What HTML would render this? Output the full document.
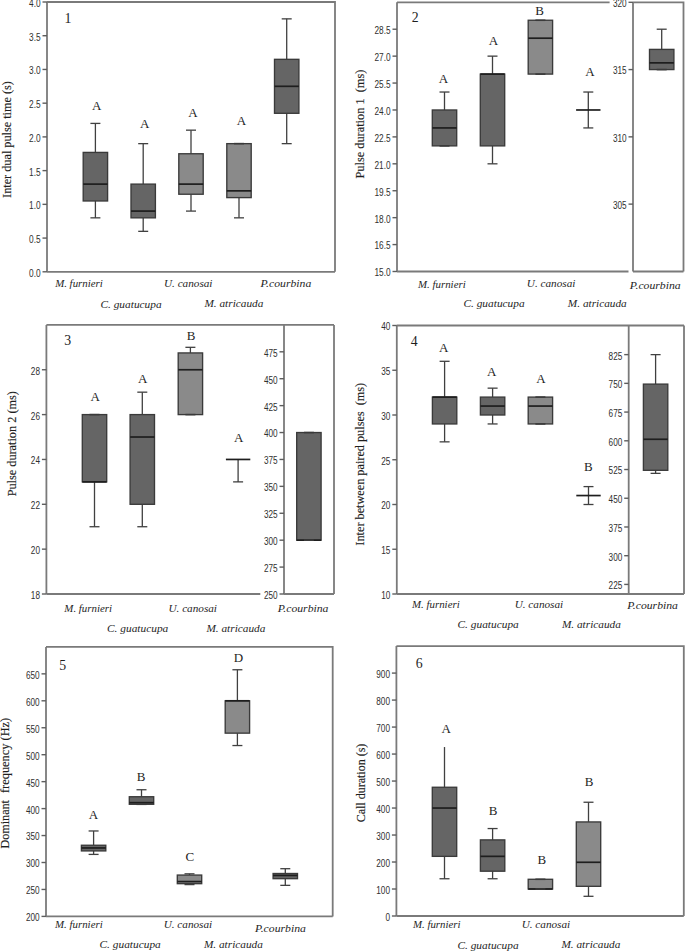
<!DOCTYPE html>
<html><head><meta charset="utf-8"><title>Boxplots</title>
<style>
html,body{margin:0;padding:0;background:#fff;}
svg{display:block;}
.tk{font-family:"Liberation Sans",sans-serif;font-size:10px;fill:#303030;}
.lt{font-family:"Liberation Serif",serif;font-size:13px;fill:#1e1e1e;}
.pn{font-family:"Liberation Serif",serif;font-size:13.8px;fill:#1e1e1e;}
.sp{font-family:"Liberation Serif",serif;font-style:italic;font-size:11px;fill:#1e1e1e;}
.yl{font-family:"Liberation Serif",serif;font-size:12.8px;fill:#1e1e1e;stroke:#1e1e1e;stroke-width:0.15px;}
</style></head>
<body>
<svg width="685" height="951" viewBox="0 0 685 951">
<rect x="0" y="0" width="685" height="951" fill="#fff"/>
<polyline points="47.0,2.0 335.0,2.0 335.0,271.8" fill="none" stroke="#7a7a7a" stroke-width="1.8"/>
<line x1="47.00" y1="2.00" x2="47.00" y2="271.80" stroke="#7a7a7a" stroke-width="1.8"/>
<line x1="47.00" y1="271.80" x2="335.00" y2="271.80" stroke="#7a7a7a" stroke-width="1.8"/>
<line x1="42.50" y1="271.80" x2="47.00" y2="271.80" stroke="#5e5e5e" stroke-width="1.4"/>
<text x="40.60" y="276.70" class="tk" text-anchor="end" textLength="11.54" lengthAdjust="spacingAndGlyphs">0.0</text>
<line x1="42.50" y1="238.08" x2="47.00" y2="238.08" stroke="#5e5e5e" stroke-width="1.4"/>
<text x="40.60" y="242.98" class="tk" text-anchor="end" textLength="11.54" lengthAdjust="spacingAndGlyphs">0.5</text>
<line x1="42.50" y1="204.35" x2="47.00" y2="204.35" stroke="#5e5e5e" stroke-width="1.4"/>
<text x="40.60" y="209.25" class="tk" text-anchor="end" textLength="11.54" lengthAdjust="spacingAndGlyphs">1.0</text>
<line x1="42.50" y1="170.62" x2="47.00" y2="170.62" stroke="#5e5e5e" stroke-width="1.4"/>
<text x="40.60" y="175.53" class="tk" text-anchor="end" textLength="11.54" lengthAdjust="spacingAndGlyphs">1.5</text>
<line x1="42.50" y1="136.90" x2="47.00" y2="136.90" stroke="#5e5e5e" stroke-width="1.4"/>
<text x="40.60" y="141.80" class="tk" text-anchor="end" textLength="11.54" lengthAdjust="spacingAndGlyphs">2.0</text>
<line x1="42.50" y1="103.18" x2="47.00" y2="103.18" stroke="#5e5e5e" stroke-width="1.4"/>
<text x="40.60" y="108.08" class="tk" text-anchor="end" textLength="11.54" lengthAdjust="spacingAndGlyphs">2.5</text>
<line x1="42.50" y1="69.45" x2="47.00" y2="69.45" stroke="#5e5e5e" stroke-width="1.4"/>
<text x="40.60" y="74.35" class="tk" text-anchor="end" textLength="11.54" lengthAdjust="spacingAndGlyphs">3.0</text>
<line x1="42.50" y1="35.72" x2="47.00" y2="35.72" stroke="#5e5e5e" stroke-width="1.4"/>
<text x="40.60" y="40.62" class="tk" text-anchor="end" textLength="11.54" lengthAdjust="spacingAndGlyphs">3.5</text>
<line x1="42.50" y1="2.00" x2="47.00" y2="2.00" stroke="#5e5e5e" stroke-width="1.4"/>
<text x="40.60" y="6.90" class="tk" text-anchor="end" textLength="11.54" lengthAdjust="spacingAndGlyphs">4.0</text>
<line x1="95.40" y1="123.41" x2="95.40" y2="152.41" stroke="#404040" stroke-width="1.3"/>
<line x1="90.40" y1="123.41" x2="100.40" y2="123.41" stroke="#404040" stroke-width="1.3"/>
<line x1="95.40" y1="200.98" x2="95.40" y2="217.84" stroke="#404040" stroke-width="1.3"/>
<line x1="90.40" y1="217.84" x2="100.40" y2="217.84" stroke="#404040" stroke-width="1.3"/>
<rect x="83.20" y="152.41" width="24.40" height="48.56" fill="#656565" stroke="#3a3a3a" stroke-width="1.35"/>
<line x1="83.20" y1="184.12" x2="107.60" y2="184.12" stroke="#1e1e1e" stroke-width="1.7"/>
<line x1="143.20" y1="143.65" x2="143.20" y2="184.12" stroke="#404040" stroke-width="1.3"/>
<line x1="138.20" y1="143.65" x2="148.20" y2="143.65" stroke="#404040" stroke-width="1.3"/>
<line x1="143.20" y1="217.84" x2="143.20" y2="231.33" stroke="#404040" stroke-width="1.3"/>
<line x1="138.20" y1="231.33" x2="148.20" y2="231.33" stroke="#404040" stroke-width="1.3"/>
<rect x="131.00" y="184.12" width="24.40" height="33.72" fill="#656565" stroke="#3a3a3a" stroke-width="1.35"/>
<line x1="131.00" y1="211.09" x2="155.40" y2="211.09" stroke="#1e1e1e" stroke-width="1.7"/>
<line x1="191.00" y1="130.16" x2="191.00" y2="153.76" stroke="#404040" stroke-width="1.3"/>
<line x1="186.00" y1="130.16" x2="196.00" y2="130.16" stroke="#404040" stroke-width="1.3"/>
<line x1="191.00" y1="194.23" x2="191.00" y2="211.09" stroke="#404040" stroke-width="1.3"/>
<line x1="186.00" y1="211.09" x2="196.00" y2="211.09" stroke="#404040" stroke-width="1.3"/>
<rect x="178.80" y="153.76" width="24.40" height="40.47" fill="#8a8a8a" stroke="#3a3a3a" stroke-width="1.35"/>
<line x1="178.80" y1="184.12" x2="203.20" y2="184.12" stroke="#1e1e1e" stroke-width="1.7"/>
<line x1="239.00" y1="197.61" x2="239.00" y2="217.84" stroke="#404040" stroke-width="1.3"/>
<line x1="234.00" y1="217.84" x2="244.00" y2="217.84" stroke="#404040" stroke-width="1.3"/>
<rect x="226.80" y="143.65" width="24.40" height="53.96" fill="#8a8a8a" stroke="#3a3a3a" stroke-width="1.35"/>
<line x1="226.80" y1="190.86" x2="251.20" y2="190.86" stroke="#1e1e1e" stroke-width="1.7"/>
<line x1="234.00" y1="143.65" x2="244.00" y2="143.65" stroke="#3a3a3a" stroke-width="1.6"/>
<line x1="286.70" y1="18.86" x2="286.70" y2="59.33" stroke="#404040" stroke-width="1.3"/>
<line x1="281.70" y1="18.86" x2="291.70" y2="18.86" stroke="#404040" stroke-width="1.3"/>
<line x1="286.70" y1="113.29" x2="286.70" y2="143.65" stroke="#404040" stroke-width="1.3"/>
<line x1="281.70" y1="143.65" x2="291.70" y2="143.65" stroke="#404040" stroke-width="1.3"/>
<rect x="274.50" y="59.33" width="24.40" height="53.96" fill="#656565" stroke="#3a3a3a" stroke-width="1.35"/>
<line x1="274.50" y1="86.31" x2="298.90" y2="86.31" stroke="#1e1e1e" stroke-width="1.7"/>
<text x="96.60" y="110.00" class="lt" text-anchor="middle">A</text>
<text x="144.80" y="127.70" class="lt" text-anchor="middle">A</text>
<text x="193.00" y="116.80" class="lt" text-anchor="middle">A</text>
<text x="241.40" y="124.80" class="lt" text-anchor="middle">A</text>
<text x="64.40" y="22.50" class="pn" text-anchor="start">1</text>
<text x="55.15" y="287.20" class="sp" text-anchor="start" textLength="47.65" lengthAdjust="spacingAndGlyphs">M. furnieri</text>
<text x="100.45" y="307.50" class="sp" text-anchor="start" textLength="61.2" lengthAdjust="spacingAndGlyphs">C. guatucupa</text>
<text x="163.95" y="286.70" class="sp" text-anchor="start" textLength="48.55" lengthAdjust="spacingAndGlyphs">U. canosai</text>
<text x="204.45" y="307.20" class="sp" text-anchor="start" textLength="58.9" lengthAdjust="spacingAndGlyphs">M. atricauda</text>
<text x="260.45" y="286.70" class="sp" text-anchor="start" textLength="50.8" lengthAdjust="spacingAndGlyphs">P.courbina</text>
<text x="0" y="0" class="yl" text-anchor="middle" transform="translate(10.90,139.50) rotate(-90)" textLength="116.8" lengthAdjust="spacingAndGlyphs" xml:space="preserve">Inter dual pulse time (s)</text>
<line x1="397.00" y1="2.30" x2="609.60" y2="2.30" stroke="#7a7a7a" stroke-width="1.8"/>
<line x1="397.00" y1="2.30" x2="397.00" y2="271.50" stroke="#7a7a7a" stroke-width="1.8"/>
<line x1="397.00" y1="271.50" x2="628.50" y2="271.50" stroke="#7a7a7a" stroke-width="1.8"/>
<line x1="392.50" y1="271.50" x2="397.00" y2="271.50" stroke="#5e5e5e" stroke-width="1.4"/>
<text x="390.60" y="276.40" class="tk" text-anchor="end" textLength="16.11" lengthAdjust="spacingAndGlyphs">15.0</text>
<line x1="392.50" y1="244.58" x2="397.00" y2="244.58" stroke="#5e5e5e" stroke-width="1.4"/>
<text x="390.60" y="249.48" class="tk" text-anchor="end" textLength="16.11" lengthAdjust="spacingAndGlyphs">16.5</text>
<line x1="392.50" y1="217.66" x2="397.00" y2="217.66" stroke="#5e5e5e" stroke-width="1.4"/>
<text x="390.60" y="222.56" class="tk" text-anchor="end" textLength="16.11" lengthAdjust="spacingAndGlyphs">18.0</text>
<line x1="392.50" y1="190.74" x2="397.00" y2="190.74" stroke="#5e5e5e" stroke-width="1.4"/>
<text x="390.60" y="195.64" class="tk" text-anchor="end" textLength="16.11" lengthAdjust="spacingAndGlyphs">19.5</text>
<line x1="392.50" y1="163.82" x2="397.00" y2="163.82" stroke="#5e5e5e" stroke-width="1.4"/>
<text x="390.60" y="168.72" class="tk" text-anchor="end" textLength="16.11" lengthAdjust="spacingAndGlyphs">21.0</text>
<line x1="392.50" y1="136.90" x2="397.00" y2="136.90" stroke="#5e5e5e" stroke-width="1.4"/>
<text x="390.60" y="141.80" class="tk" text-anchor="end" textLength="16.11" lengthAdjust="spacingAndGlyphs">22.5</text>
<line x1="392.50" y1="109.98" x2="397.00" y2="109.98" stroke="#5e5e5e" stroke-width="1.4"/>
<text x="390.60" y="114.88" class="tk" text-anchor="end" textLength="16.11" lengthAdjust="spacingAndGlyphs">24.0</text>
<line x1="392.50" y1="83.06" x2="397.00" y2="83.06" stroke="#5e5e5e" stroke-width="1.4"/>
<text x="390.60" y="87.96" class="tk" text-anchor="end" textLength="16.11" lengthAdjust="spacingAndGlyphs">25.5</text>
<line x1="392.50" y1="56.14" x2="397.00" y2="56.14" stroke="#5e5e5e" stroke-width="1.4"/>
<text x="390.60" y="61.04" class="tk" text-anchor="end" textLength="16.11" lengthAdjust="spacingAndGlyphs">27.0</text>
<line x1="392.50" y1="29.22" x2="397.00" y2="29.22" stroke="#5e5e5e" stroke-width="1.4"/>
<text x="390.60" y="34.12" class="tk" text-anchor="end" textLength="16.11" lengthAdjust="spacingAndGlyphs">28.5</text>
<line x1="444.50" y1="92.03" x2="444.50" y2="109.98" stroke="#404040" stroke-width="1.3"/>
<line x1="439.50" y1="92.03" x2="449.50" y2="92.03" stroke="#404040" stroke-width="1.3"/>
<rect x="432.30" y="109.98" width="24.40" height="35.89" fill="#656565" stroke="#3a3a3a" stroke-width="1.35"/>
<line x1="432.30" y1="127.93" x2="456.70" y2="127.93" stroke="#1e1e1e" stroke-width="1.7"/>
<line x1="439.50" y1="145.87" x2="449.50" y2="145.87" stroke="#3a3a3a" stroke-width="1.6"/>
<line x1="492.50" y1="56.14" x2="492.50" y2="74.09" stroke="#404040" stroke-width="1.3"/>
<line x1="487.50" y1="56.14" x2="497.50" y2="56.14" stroke="#404040" stroke-width="1.3"/>
<line x1="492.50" y1="145.87" x2="492.50" y2="163.82" stroke="#404040" stroke-width="1.3"/>
<line x1="487.50" y1="163.82" x2="497.50" y2="163.82" stroke="#404040" stroke-width="1.3"/>
<rect x="480.30" y="74.09" width="24.40" height="71.79" fill="#656565" stroke="#3a3a3a" stroke-width="1.35"/>
<line x1="480.30" y1="74.09" x2="504.70" y2="74.09" stroke="#1e1e1e" stroke-width="1.7"/>
<rect x="528.20" y="20.25" width="24.40" height="53.84" fill="#8a8a8a" stroke="#3a3a3a" stroke-width="1.35"/>
<line x1="528.20" y1="38.19" x2="552.60" y2="38.19" stroke="#1e1e1e" stroke-width="1.7"/>
<line x1="535.40" y1="20.25" x2="545.40" y2="20.25" stroke="#3a3a3a" stroke-width="1.6"/>
<line x1="535.40" y1="74.09" x2="545.40" y2="74.09" stroke="#3a3a3a" stroke-width="1.6"/>
<line x1="588.30" y1="92.03" x2="588.30" y2="109.98" stroke="#404040" stroke-width="1.3"/>
<line x1="583.30" y1="92.03" x2="593.30" y2="92.03" stroke="#404040" stroke-width="1.3"/>
<line x1="588.30" y1="109.98" x2="588.30" y2="127.93" stroke="#404040" stroke-width="1.3"/>
<line x1="583.30" y1="127.93" x2="593.30" y2="127.93" stroke="#404040" stroke-width="1.3"/>
<line x1="576.10" y1="109.98" x2="600.50" y2="109.98" stroke="#1e1e1e" stroke-width="1.7"/>
<text x="443.50" y="82.80" class="lt" text-anchor="middle">A</text>
<text x="493.50" y="44.60" class="lt" text-anchor="middle">A</text>
<text x="539.70" y="14.60" class="lt" text-anchor="middle">B</text>
<text x="589.90" y="75.70" class="lt" text-anchor="middle">A</text>
<polyline points="633.0,2.3 683.5,2.3 683.5,271.5" fill="none" stroke="#7a7a7a" stroke-width="1.8"/>
<line x1="633.00" y1="2.30" x2="633.00" y2="271.50" stroke="#7a7a7a" stroke-width="1.8"/>
<line x1="633.00" y1="271.50" x2="683.50" y2="271.50" stroke="#7a7a7a" stroke-width="1.8"/>
<line x1="628.50" y1="204.12" x2="633.00" y2="204.12" stroke="#5e5e5e" stroke-width="1.4"/>
<text x="626.60" y="209.03" class="tk" text-anchor="end" textLength="13.71" lengthAdjust="spacingAndGlyphs">305</text>
<line x1="628.50" y1="136.85" x2="633.00" y2="136.85" stroke="#5e5e5e" stroke-width="1.4"/>
<text x="626.60" y="141.75" class="tk" text-anchor="end" textLength="13.71" lengthAdjust="spacingAndGlyphs">310</text>
<line x1="628.50" y1="69.57" x2="633.00" y2="69.57" stroke="#5e5e5e" stroke-width="1.4"/>
<text x="626.60" y="74.47" class="tk" text-anchor="end" textLength="13.71" lengthAdjust="spacingAndGlyphs">315</text>
<line x1="628.50" y1="2.30" x2="633.00" y2="2.30" stroke="#5e5e5e" stroke-width="1.4"/>
<text x="626.60" y="7.20" class="tk" text-anchor="end" textLength="13.71" lengthAdjust="spacingAndGlyphs">320</text>
<line x1="661.70" y1="29.21" x2="661.70" y2="49.39" stroke="#404040" stroke-width="1.3"/>
<line x1="656.70" y1="29.21" x2="666.70" y2="29.21" stroke="#404040" stroke-width="1.3"/>
<rect x="649.50" y="49.39" width="24.40" height="20.18" fill="#656565" stroke="#3a3a3a" stroke-width="1.35"/>
<line x1="649.50" y1="62.85" x2="673.90" y2="62.85" stroke="#1e1e1e" stroke-width="1.7"/>
<line x1="656.70" y1="69.57" x2="666.70" y2="69.57" stroke="#3a3a3a" stroke-width="1.6"/>
<text x="411.80" y="21.60" class="pn" text-anchor="start">2</text>
<text x="418.05" y="287.50" class="sp" text-anchor="start" textLength="47.65" lengthAdjust="spacingAndGlyphs">M. furnieri</text>
<text x="463.45" y="307.20" class="sp" text-anchor="start" textLength="61.2" lengthAdjust="spacingAndGlyphs">C. guatucupa</text>
<text x="526.85" y="287.20" class="sp" text-anchor="start" textLength="48.55" lengthAdjust="spacingAndGlyphs">U. canosai</text>
<text x="567.85" y="306.90" class="sp" text-anchor="start" textLength="58.9" lengthAdjust="spacingAndGlyphs">M. atricauda</text>
<text x="629.85" y="288.90" class="sp" text-anchor="start" textLength="50.8" lengthAdjust="spacingAndGlyphs">P.courbina</text>
<text x="0" y="0" class="yl" text-anchor="middle" transform="translate(363.80,124.10) rotate(-90)" textLength="108.8" lengthAdjust="spacingAndGlyphs" xml:space="preserve">Pulse duration 1  (ms)</text>
<line x1="46.40" y1="324.90" x2="334.00" y2="324.90" stroke="#7a7a7a" stroke-width="1.8"/>
<line x1="46.40" y1="324.90" x2="46.40" y2="594.00" stroke="#7a7a7a" stroke-width="1.8"/>
<line x1="46.40" y1="594.00" x2="260.30" y2="594.00" stroke="#7a7a7a" stroke-width="1.8"/>
<line x1="41.90" y1="594.00" x2="46.40" y2="594.00" stroke="#5e5e5e" stroke-width="1.4"/>
<text x="40.00" y="598.90" class="tk" text-anchor="end" textLength="9.14" lengthAdjust="spacingAndGlyphs">18</text>
<line x1="41.90" y1="549.15" x2="46.40" y2="549.15" stroke="#5e5e5e" stroke-width="1.4"/>
<text x="40.00" y="554.05" class="tk" text-anchor="end" textLength="9.14" lengthAdjust="spacingAndGlyphs">20</text>
<line x1="41.90" y1="504.30" x2="46.40" y2="504.30" stroke="#5e5e5e" stroke-width="1.4"/>
<text x="40.00" y="509.20" class="tk" text-anchor="end" textLength="9.14" lengthAdjust="spacingAndGlyphs">22</text>
<line x1="41.90" y1="459.45" x2="46.40" y2="459.45" stroke="#5e5e5e" stroke-width="1.4"/>
<text x="40.00" y="464.35" class="tk" text-anchor="end" textLength="9.14" lengthAdjust="spacingAndGlyphs">24</text>
<line x1="41.90" y1="414.60" x2="46.40" y2="414.60" stroke="#5e5e5e" stroke-width="1.4"/>
<text x="40.00" y="419.50" class="tk" text-anchor="end" textLength="9.14" lengthAdjust="spacingAndGlyphs">26</text>
<line x1="41.90" y1="369.75" x2="46.40" y2="369.75" stroke="#5e5e5e" stroke-width="1.4"/>
<text x="40.00" y="374.65" class="tk" text-anchor="end" textLength="9.14" lengthAdjust="spacingAndGlyphs">28</text>
<line x1="94.50" y1="481.88" x2="94.50" y2="526.73" stroke="#404040" stroke-width="1.3"/>
<line x1="89.50" y1="526.73" x2="99.50" y2="526.73" stroke="#404040" stroke-width="1.3"/>
<rect x="82.30" y="414.60" width="24.40" height="67.27" fill="#656565" stroke="#3a3a3a" stroke-width="1.35"/>
<line x1="82.30" y1="481.88" x2="106.70" y2="481.88" stroke="#1e1e1e" stroke-width="1.7"/>
<line x1="89.50" y1="414.60" x2="99.50" y2="414.60" stroke="#3a3a3a" stroke-width="1.6"/>
<line x1="142.30" y1="392.17" x2="142.30" y2="414.60" stroke="#404040" stroke-width="1.3"/>
<line x1="137.30" y1="392.17" x2="147.30" y2="392.17" stroke="#404040" stroke-width="1.3"/>
<line x1="142.30" y1="504.30" x2="142.30" y2="526.73" stroke="#404040" stroke-width="1.3"/>
<line x1="137.30" y1="526.73" x2="147.30" y2="526.73" stroke="#404040" stroke-width="1.3"/>
<rect x="130.10" y="414.60" width="24.40" height="89.70" fill="#656565" stroke="#3a3a3a" stroke-width="1.35"/>
<line x1="130.10" y1="437.02" x2="154.50" y2="437.02" stroke="#1e1e1e" stroke-width="1.7"/>
<line x1="190.40" y1="347.32" x2="190.40" y2="352.93" stroke="#404040" stroke-width="1.3"/>
<line x1="185.40" y1="347.32" x2="195.40" y2="347.32" stroke="#404040" stroke-width="1.3"/>
<rect x="178.20" y="352.93" width="24.40" height="61.67" fill="#8a8a8a" stroke="#3a3a3a" stroke-width="1.35"/>
<line x1="178.20" y1="369.75" x2="202.60" y2="369.75" stroke="#1e1e1e" stroke-width="1.7"/>
<line x1="185.40" y1="414.60" x2="195.40" y2="414.60" stroke="#3a3a3a" stroke-width="1.6"/>
<line x1="238.10" y1="459.45" x2="238.10" y2="481.88" stroke="#404040" stroke-width="1.3"/>
<line x1="233.10" y1="481.88" x2="243.10" y2="481.88" stroke="#404040" stroke-width="1.3"/>
<line x1="225.90" y1="459.45" x2="250.30" y2="459.45" stroke="#1e1e1e" stroke-width="1.7"/>
<text x="95.20" y="401.40" class="lt" text-anchor="middle">A</text>
<text x="142.60" y="382.80" class="lt" text-anchor="middle">A</text>
<text x="191.10" y="339.60" class="lt" text-anchor="middle">B</text>
<text x="238.60" y="442.20" class="lt" text-anchor="middle">A</text>
<line x1="284.00" y1="324.90" x2="284.00" y2="594.00" stroke="#7a7a7a" stroke-width="1.8"/>
<line x1="334.00" y1="324.90" x2="334.00" y2="594.00" stroke="#7a7a7a" stroke-width="1.8"/>
<line x1="284.00" y1="594.00" x2="334.00" y2="594.00" stroke="#7a7a7a" stroke-width="1.8"/>
<line x1="279.50" y1="594.00" x2="284.00" y2="594.00" stroke="#5e5e5e" stroke-width="1.4"/>
<text x="277.60" y="598.90" class="tk" text-anchor="end" textLength="13.71" lengthAdjust="spacingAndGlyphs">250</text>
<line x1="279.50" y1="567.09" x2="284.00" y2="567.09" stroke="#5e5e5e" stroke-width="1.4"/>
<text x="277.60" y="571.99" class="tk" text-anchor="end" textLength="13.71" lengthAdjust="spacingAndGlyphs">275</text>
<line x1="279.50" y1="540.18" x2="284.00" y2="540.18" stroke="#5e5e5e" stroke-width="1.4"/>
<text x="277.60" y="545.08" class="tk" text-anchor="end" textLength="13.71" lengthAdjust="spacingAndGlyphs">300</text>
<line x1="279.50" y1="513.27" x2="284.00" y2="513.27" stroke="#5e5e5e" stroke-width="1.4"/>
<text x="277.60" y="518.17" class="tk" text-anchor="end" textLength="13.71" lengthAdjust="spacingAndGlyphs">325</text>
<line x1="279.50" y1="486.36" x2="284.00" y2="486.36" stroke="#5e5e5e" stroke-width="1.4"/>
<text x="277.60" y="491.26" class="tk" text-anchor="end" textLength="13.71" lengthAdjust="spacingAndGlyphs">350</text>
<line x1="279.50" y1="459.45" x2="284.00" y2="459.45" stroke="#5e5e5e" stroke-width="1.4"/>
<text x="277.60" y="464.35" class="tk" text-anchor="end" textLength="13.71" lengthAdjust="spacingAndGlyphs">375</text>
<line x1="279.50" y1="432.54" x2="284.00" y2="432.54" stroke="#5e5e5e" stroke-width="1.4"/>
<text x="277.60" y="437.44" class="tk" text-anchor="end" textLength="13.71" lengthAdjust="spacingAndGlyphs">400</text>
<line x1="279.50" y1="405.63" x2="284.00" y2="405.63" stroke="#5e5e5e" stroke-width="1.4"/>
<text x="277.60" y="410.53" class="tk" text-anchor="end" textLength="13.71" lengthAdjust="spacingAndGlyphs">425</text>
<line x1="279.50" y1="378.72" x2="284.00" y2="378.72" stroke="#5e5e5e" stroke-width="1.4"/>
<text x="277.60" y="383.62" class="tk" text-anchor="end" textLength="13.71" lengthAdjust="spacingAndGlyphs">450</text>
<line x1="279.50" y1="351.81" x2="284.00" y2="351.81" stroke="#5e5e5e" stroke-width="1.4"/>
<text x="277.60" y="356.71" class="tk" text-anchor="end" textLength="13.71" lengthAdjust="spacingAndGlyphs">475</text>
<rect x="296.70" y="432.54" width="24.40" height="107.64" fill="#656565" stroke="#3a3a3a" stroke-width="1.35"/>
<line x1="296.70" y1="540.18" x2="321.10" y2="540.18" stroke="#1e1e1e" stroke-width="1.7"/>
<line x1="303.90" y1="432.54" x2="313.90" y2="432.54" stroke="#3a3a3a" stroke-width="1.6"/>
<line x1="303.90" y1="540.18" x2="313.90" y2="540.18" stroke="#3a3a3a" stroke-width="1.6"/>
<text x="64.30" y="344.90" class="pn" text-anchor="start">3</text>
<text x="64.35" y="611.80" class="sp" text-anchor="start" textLength="47.65" lengthAdjust="spacingAndGlyphs">M. furnieri</text>
<text x="107.05" y="632.00" class="sp" text-anchor="start" textLength="61.2" lengthAdjust="spacingAndGlyphs">C. guatucupa</text>
<text x="168.45" y="611.80" class="sp" text-anchor="start" textLength="48.55" lengthAdjust="spacingAndGlyphs">U. canosai</text>
<text x="206.45" y="632.00" class="sp" text-anchor="start" textLength="58.9" lengthAdjust="spacingAndGlyphs">M. atricauda</text>
<text x="277.65" y="612.40" class="sp" text-anchor="start" textLength="50.8" lengthAdjust="spacingAndGlyphs">P.courbina</text>
<text x="0" y="0" class="yl" text-anchor="middle" transform="translate(16.00,443.75) rotate(-90)" textLength="105.2" lengthAdjust="spacingAndGlyphs" xml:space="preserve">Pulse duration 2 (ms)</text>
<line x1="396.80" y1="325.50" x2="684.00" y2="325.50" stroke="#7a7a7a" stroke-width="1.8"/>
<line x1="396.80" y1="325.50" x2="396.80" y2="594.00" stroke="#7a7a7a" stroke-width="1.8"/>
<line x1="396.80" y1="594.00" x2="684.00" y2="594.00" stroke="#7a7a7a" stroke-width="1.8"/>
<line x1="392.30" y1="594.00" x2="396.80" y2="594.00" stroke="#5e5e5e" stroke-width="1.4"/>
<text x="390.40" y="598.90" class="tk" text-anchor="end" textLength="9.14" lengthAdjust="spacingAndGlyphs">10</text>
<line x1="392.30" y1="549.25" x2="396.80" y2="549.25" stroke="#5e5e5e" stroke-width="1.4"/>
<text x="390.40" y="554.15" class="tk" text-anchor="end" textLength="9.14" lengthAdjust="spacingAndGlyphs">15</text>
<line x1="392.30" y1="504.50" x2="396.80" y2="504.50" stroke="#5e5e5e" stroke-width="1.4"/>
<text x="390.40" y="509.40" class="tk" text-anchor="end" textLength="9.14" lengthAdjust="spacingAndGlyphs">20</text>
<line x1="392.30" y1="459.75" x2="396.80" y2="459.75" stroke="#5e5e5e" stroke-width="1.4"/>
<text x="390.40" y="464.65" class="tk" text-anchor="end" textLength="9.14" lengthAdjust="spacingAndGlyphs">25</text>
<line x1="392.30" y1="415.00" x2="396.80" y2="415.00" stroke="#5e5e5e" stroke-width="1.4"/>
<text x="390.40" y="419.90" class="tk" text-anchor="end" textLength="9.14" lengthAdjust="spacingAndGlyphs">30</text>
<line x1="392.30" y1="370.25" x2="396.80" y2="370.25" stroke="#5e5e5e" stroke-width="1.4"/>
<text x="390.40" y="375.15" class="tk" text-anchor="end" textLength="9.14" lengthAdjust="spacingAndGlyphs">35</text>
<line x1="392.30" y1="325.50" x2="396.80" y2="325.50" stroke="#5e5e5e" stroke-width="1.4"/>
<text x="390.40" y="330.40" class="tk" text-anchor="end" textLength="9.14" lengthAdjust="spacingAndGlyphs">40</text>
<line x1="444.60" y1="361.30" x2="444.60" y2="397.10" stroke="#404040" stroke-width="1.3"/>
<line x1="439.60" y1="361.30" x2="449.60" y2="361.30" stroke="#404040" stroke-width="1.3"/>
<line x1="444.60" y1="423.95" x2="444.60" y2="441.85" stroke="#404040" stroke-width="1.3"/>
<line x1="439.60" y1="441.85" x2="449.60" y2="441.85" stroke="#404040" stroke-width="1.3"/>
<rect x="432.40" y="397.10" width="24.40" height="26.85" fill="#656565" stroke="#3a3a3a" stroke-width="1.35"/>
<line x1="432.40" y1="397.10" x2="456.80" y2="397.10" stroke="#1e1e1e" stroke-width="1.7"/>
<line x1="492.60" y1="388.15" x2="492.60" y2="397.10" stroke="#404040" stroke-width="1.3"/>
<line x1="487.60" y1="388.15" x2="497.60" y2="388.15" stroke="#404040" stroke-width="1.3"/>
<line x1="492.60" y1="415.00" x2="492.60" y2="423.95" stroke="#404040" stroke-width="1.3"/>
<line x1="487.60" y1="423.95" x2="497.60" y2="423.95" stroke="#404040" stroke-width="1.3"/>
<rect x="480.40" y="397.10" width="24.40" height="17.90" fill="#656565" stroke="#3a3a3a" stroke-width="1.35"/>
<line x1="480.40" y1="406.05" x2="504.80" y2="406.05" stroke="#1e1e1e" stroke-width="1.7"/>
<rect x="528.20" y="397.10" width="24.40" height="26.85" fill="#8a8a8a" stroke="#3a3a3a" stroke-width="1.35"/>
<line x1="528.20" y1="406.05" x2="552.60" y2="406.05" stroke="#1e1e1e" stroke-width="1.7"/>
<line x1="535.40" y1="397.10" x2="545.40" y2="397.10" stroke="#3a3a3a" stroke-width="1.6"/>
<line x1="535.40" y1="423.95" x2="545.40" y2="423.95" stroke="#3a3a3a" stroke-width="1.6"/>
<line x1="588.50" y1="486.60" x2="588.50" y2="495.55" stroke="#404040" stroke-width="1.3"/>
<line x1="583.50" y1="486.60" x2="593.50" y2="486.60" stroke="#404040" stroke-width="1.3"/>
<line x1="588.50" y1="495.55" x2="588.50" y2="504.50" stroke="#404040" stroke-width="1.3"/>
<line x1="583.50" y1="504.50" x2="593.50" y2="504.50" stroke="#404040" stroke-width="1.3"/>
<line x1="576.30" y1="495.55" x2="600.70" y2="495.55" stroke="#1e1e1e" stroke-width="1.7"/>
<text x="443.70" y="351.90" class="lt" text-anchor="middle">A</text>
<text x="491.80" y="375.50" class="lt" text-anchor="middle">A</text>
<text x="540.90" y="382.80" class="lt" text-anchor="middle">A</text>
<text x="588.30" y="471.00" class="lt" text-anchor="middle">B</text>
<line x1="628.70" y1="325.50" x2="628.70" y2="594.00" stroke="#7a7a7a" stroke-width="1.8"/>
<line x1="684.00" y1="325.50" x2="684.00" y2="594.00" stroke="#7a7a7a" stroke-width="1.8"/>
<line x1="624.20" y1="584.42" x2="628.70" y2="584.42" stroke="#5e5e5e" stroke-width="1.4"/>
<text x="622.30" y="589.32" class="tk" text-anchor="end" textLength="13.71" lengthAdjust="spacingAndGlyphs">225</text>
<line x1="624.20" y1="555.70" x2="628.70" y2="555.70" stroke="#5e5e5e" stroke-width="1.4"/>
<text x="622.30" y="560.60" class="tk" text-anchor="end" textLength="13.71" lengthAdjust="spacingAndGlyphs">300</text>
<line x1="624.20" y1="526.98" x2="628.70" y2="526.98" stroke="#5e5e5e" stroke-width="1.4"/>
<text x="622.30" y="531.88" class="tk" text-anchor="end" textLength="13.71" lengthAdjust="spacingAndGlyphs">375</text>
<line x1="624.20" y1="498.25" x2="628.70" y2="498.25" stroke="#5e5e5e" stroke-width="1.4"/>
<text x="622.30" y="503.15" class="tk" text-anchor="end" textLength="13.71" lengthAdjust="spacingAndGlyphs">450</text>
<line x1="624.20" y1="469.52" x2="628.70" y2="469.52" stroke="#5e5e5e" stroke-width="1.4"/>
<text x="622.30" y="474.42" class="tk" text-anchor="end" textLength="13.71" lengthAdjust="spacingAndGlyphs">525</text>
<line x1="624.20" y1="440.80" x2="628.70" y2="440.80" stroke="#5e5e5e" stroke-width="1.4"/>
<text x="622.30" y="445.70" class="tk" text-anchor="end" textLength="13.71" lengthAdjust="spacingAndGlyphs">600</text>
<line x1="624.20" y1="412.07" x2="628.70" y2="412.07" stroke="#5e5e5e" stroke-width="1.4"/>
<text x="622.30" y="416.97" class="tk" text-anchor="end" textLength="13.71" lengthAdjust="spacingAndGlyphs">675</text>
<line x1="624.20" y1="383.35" x2="628.70" y2="383.35" stroke="#5e5e5e" stroke-width="1.4"/>
<text x="622.30" y="388.25" class="tk" text-anchor="end" textLength="13.71" lengthAdjust="spacingAndGlyphs">750</text>
<line x1="624.20" y1="354.62" x2="628.70" y2="354.62" stroke="#5e5e5e" stroke-width="1.4"/>
<text x="622.30" y="359.52" class="tk" text-anchor="end" textLength="13.71" lengthAdjust="spacingAndGlyphs">825</text>
<line x1="655.60" y1="354.62" x2="655.60" y2="384.12" stroke="#404040" stroke-width="1.3"/>
<line x1="650.60" y1="354.62" x2="660.60" y2="354.62" stroke="#404040" stroke-width="1.3"/>
<line x1="655.60" y1="470.29" x2="655.60" y2="473.36" stroke="#404040" stroke-width="1.3"/>
<line x1="650.60" y1="473.36" x2="660.60" y2="473.36" stroke="#404040" stroke-width="1.3"/>
<rect x="643.40" y="384.12" width="24.40" height="86.18" fill="#656565" stroke="#3a3a3a" stroke-width="1.35"/>
<line x1="643.40" y1="439.27" x2="667.80" y2="439.27" stroke="#1e1e1e" stroke-width="1.7"/>
<text x="410.70" y="346.00" class="pn" text-anchor="start">4</text>
<text x="412.05" y="607.80" class="sp" text-anchor="start" textLength="47.65" lengthAdjust="spacingAndGlyphs">M. furnieri</text>
<text x="457.55" y="627.70" class="sp" text-anchor="start" textLength="61.2" lengthAdjust="spacingAndGlyphs">C. guatucupa</text>
<text x="514.65" y="607.80" class="sp" text-anchor="start" textLength="48.55" lengthAdjust="spacingAndGlyphs">U. canosai</text>
<text x="561.95" y="627.70" class="sp" text-anchor="start" textLength="58.9" lengthAdjust="spacingAndGlyphs">M. atricauda</text>
<text x="627.15" y="608.60" class="sp" text-anchor="start" textLength="50.8" lengthAdjust="spacingAndGlyphs">P.courbina</text>
<text x="0" y="0" class="yl" text-anchor="middle" transform="translate(363.50,464.25) rotate(-90)" textLength="162.8" lengthAdjust="spacingAndGlyphs" xml:space="preserve">Inter between paired pulses  (ms)</text>
<polyline points="46.0,646.9 332.7,646.9 332.7,916.4" fill="none" stroke="#7a7a7a" stroke-width="1.8"/>
<line x1="46.00" y1="646.90" x2="46.00" y2="916.40" stroke="#7a7a7a" stroke-width="1.8"/>
<line x1="46.00" y1="916.40" x2="332.70" y2="916.40" stroke="#7a7a7a" stroke-width="1.8"/>
<line x1="41.50" y1="916.40" x2="46.00" y2="916.40" stroke="#5e5e5e" stroke-width="1.4"/>
<text x="39.60" y="921.30" class="tk" text-anchor="end" textLength="13.71" lengthAdjust="spacingAndGlyphs">200</text>
<line x1="41.50" y1="889.45" x2="46.00" y2="889.45" stroke="#5e5e5e" stroke-width="1.4"/>
<text x="39.60" y="894.35" class="tk" text-anchor="end" textLength="13.71" lengthAdjust="spacingAndGlyphs">250</text>
<line x1="41.50" y1="862.50" x2="46.00" y2="862.50" stroke="#5e5e5e" stroke-width="1.4"/>
<text x="39.60" y="867.40" class="tk" text-anchor="end" textLength="13.71" lengthAdjust="spacingAndGlyphs">300</text>
<line x1="41.50" y1="835.55" x2="46.00" y2="835.55" stroke="#5e5e5e" stroke-width="1.4"/>
<text x="39.60" y="840.45" class="tk" text-anchor="end" textLength="13.71" lengthAdjust="spacingAndGlyphs">350</text>
<line x1="41.50" y1="808.60" x2="46.00" y2="808.60" stroke="#5e5e5e" stroke-width="1.4"/>
<text x="39.60" y="813.50" class="tk" text-anchor="end" textLength="13.71" lengthAdjust="spacingAndGlyphs">400</text>
<line x1="41.50" y1="781.65" x2="46.00" y2="781.65" stroke="#5e5e5e" stroke-width="1.4"/>
<text x="39.60" y="786.55" class="tk" text-anchor="end" textLength="13.71" lengthAdjust="spacingAndGlyphs">450</text>
<line x1="41.50" y1="754.70" x2="46.00" y2="754.70" stroke="#5e5e5e" stroke-width="1.4"/>
<text x="39.60" y="759.60" class="tk" text-anchor="end" textLength="13.71" lengthAdjust="spacingAndGlyphs">500</text>
<line x1="41.50" y1="727.75" x2="46.00" y2="727.75" stroke="#5e5e5e" stroke-width="1.4"/>
<text x="39.60" y="732.65" class="tk" text-anchor="end" textLength="13.71" lengthAdjust="spacingAndGlyphs">550</text>
<line x1="41.50" y1="700.80" x2="46.00" y2="700.80" stroke="#5e5e5e" stroke-width="1.4"/>
<text x="39.60" y="705.70" class="tk" text-anchor="end" textLength="13.71" lengthAdjust="spacingAndGlyphs">600</text>
<line x1="41.50" y1="673.85" x2="46.00" y2="673.85" stroke="#5e5e5e" stroke-width="1.4"/>
<text x="39.60" y="678.75" class="tk" text-anchor="end" textLength="13.71" lengthAdjust="spacingAndGlyphs">650</text>
<line x1="93.60" y1="830.97" x2="93.60" y2="845.25" stroke="#404040" stroke-width="1.3"/>
<line x1="88.60" y1="830.97" x2="98.60" y2="830.97" stroke="#404040" stroke-width="1.3"/>
<line x1="93.60" y1="850.91" x2="93.60" y2="854.41" stroke="#404040" stroke-width="1.3"/>
<line x1="88.60" y1="854.41" x2="98.60" y2="854.41" stroke="#404040" stroke-width="1.3"/>
<rect x="81.40" y="845.25" width="24.40" height="5.66" fill="#656565" stroke="#3a3a3a" stroke-width="1.35"/>
<line x1="81.40" y1="847.95" x2="105.80" y2="847.95" stroke="#1e1e1e" stroke-width="1.7"/>
<line x1="141.50" y1="789.74" x2="141.50" y2="796.74" stroke="#404040" stroke-width="1.3"/>
<line x1="136.50" y1="789.74" x2="146.50" y2="789.74" stroke="#404040" stroke-width="1.3"/>
<rect x="129.30" y="796.74" width="24.40" height="7.55" fill="#656565" stroke="#3a3a3a" stroke-width="1.35"/>
<line x1="129.30" y1="802.67" x2="153.70" y2="802.67" stroke="#1e1e1e" stroke-width="1.7"/>
<line x1="136.50" y1="804.29" x2="146.50" y2="804.29" stroke="#3a3a3a" stroke-width="1.6"/>
<line x1="189.50" y1="873.82" x2="189.50" y2="875.06" stroke="#404040" stroke-width="1.3"/>
<line x1="184.50" y1="873.82" x2="194.50" y2="873.82" stroke="#404040" stroke-width="1.3"/>
<line x1="189.50" y1="883.68" x2="189.50" y2="884.60" stroke="#404040" stroke-width="1.3"/>
<line x1="184.50" y1="884.60" x2="194.50" y2="884.60" stroke="#404040" stroke-width="1.3"/>
<rect x="177.30" y="875.06" width="24.40" height="8.62" fill="#8a8a8a" stroke="#3a3a3a" stroke-width="1.35"/>
<line x1="177.30" y1="881.58" x2="201.70" y2="881.58" stroke="#1e1e1e" stroke-width="1.7"/>
<line x1="237.40" y1="669.75" x2="237.40" y2="700.80" stroke="#404040" stroke-width="1.3"/>
<line x1="232.40" y1="669.75" x2="242.40" y2="669.75" stroke="#404040" stroke-width="1.3"/>
<line x1="237.40" y1="733.14" x2="237.40" y2="745.54" stroke="#404040" stroke-width="1.3"/>
<line x1="232.40" y1="745.54" x2="242.40" y2="745.54" stroke="#404040" stroke-width="1.3"/>
<rect x="225.20" y="700.80" width="24.40" height="32.34" fill="#8a8a8a" stroke="#3a3a3a" stroke-width="1.35"/>
<line x1="225.20" y1="700.80" x2="249.60" y2="700.80" stroke="#1e1e1e" stroke-width="1.7"/>
<line x1="285.30" y1="868.70" x2="285.30" y2="873.50" stroke="#404040" stroke-width="1.3"/>
<line x1="280.30" y1="868.70" x2="290.30" y2="868.70" stroke="#404040" stroke-width="1.3"/>
<line x1="285.30" y1="878.67" x2="285.30" y2="885.35" stroke="#404040" stroke-width="1.3"/>
<line x1="280.30" y1="885.35" x2="290.30" y2="885.35" stroke="#404040" stroke-width="1.3"/>
<rect x="273.10" y="873.50" width="24.40" height="5.17" fill="#656565" stroke="#3a3a3a" stroke-width="1.35"/>
<line x1="273.10" y1="875.44" x2="297.50" y2="875.44" stroke="#1e1e1e" stroke-width="1.7"/>
<text x="93.40" y="819.40" class="lt" text-anchor="middle">A</text>
<text x="141.20" y="781.00" class="lt" text-anchor="middle">B</text>
<text x="189.90" y="860.80" class="lt" text-anchor="middle">C</text>
<text x="238.50" y="661.90" class="lt" text-anchor="middle">D</text>
<text x="59.20" y="669.90" class="pn" text-anchor="start">5</text>
<text x="55.05" y="928.20" class="sp" text-anchor="start" textLength="47.65" lengthAdjust="spacingAndGlyphs">M. furnieri</text>
<text x="99.55" y="947.80" class="sp" text-anchor="start" textLength="61.2" lengthAdjust="spacingAndGlyphs">C. guatucupa</text>
<text x="163.65" y="928.20" class="sp" text-anchor="start" textLength="48.55" lengthAdjust="spacingAndGlyphs">U. canosai</text>
<text x="203.95" y="947.80" class="sp" text-anchor="start" textLength="58.9" lengthAdjust="spacingAndGlyphs">M. atricauda</text>
<text x="255.05" y="932.00" class="sp" text-anchor="start" textLength="50.8" lengthAdjust="spacingAndGlyphs">P.courbina</text>
<text x="0" y="0" class="yl" text-anchor="middle" transform="translate(8.80,824.30) rotate(-90)" textLength="48.6" lengthAdjust="spacingAndGlyphs" xml:space="preserve">Dominant</text>
<text x="0" y="0" class="yl" text-anchor="middle" transform="translate(8.80,755.40) rotate(-90)" textLength="75.2" lengthAdjust="spacingAndGlyphs" xml:space="preserve">frequency (Hz)</text>
<polyline points="396.4,646.1 683.8,646.1 683.8,916.0" fill="none" stroke="#7a7a7a" stroke-width="1.8"/>
<line x1="396.40" y1="646.10" x2="396.40" y2="916.00" stroke="#7a7a7a" stroke-width="1.8"/>
<line x1="396.40" y1="916.00" x2="683.80" y2="916.00" stroke="#7a7a7a" stroke-width="1.8"/>
<line x1="391.90" y1="916.00" x2="396.40" y2="916.00" stroke="#5e5e5e" stroke-width="1.4"/>
<text x="390.00" y="920.90" class="tk" text-anchor="end" textLength="4.57" lengthAdjust="spacingAndGlyphs">0</text>
<line x1="391.90" y1="889.01" x2="396.40" y2="889.01" stroke="#5e5e5e" stroke-width="1.4"/>
<text x="390.00" y="893.91" class="tk" text-anchor="end" textLength="13.71" lengthAdjust="spacingAndGlyphs">100</text>
<line x1="391.90" y1="862.02" x2="396.40" y2="862.02" stroke="#5e5e5e" stroke-width="1.4"/>
<text x="390.00" y="866.92" class="tk" text-anchor="end" textLength="13.71" lengthAdjust="spacingAndGlyphs">200</text>
<line x1="391.90" y1="835.03" x2="396.40" y2="835.03" stroke="#5e5e5e" stroke-width="1.4"/>
<text x="390.00" y="839.93" class="tk" text-anchor="end" textLength="13.71" lengthAdjust="spacingAndGlyphs">300</text>
<line x1="391.90" y1="808.04" x2="396.40" y2="808.04" stroke="#5e5e5e" stroke-width="1.4"/>
<text x="390.00" y="812.94" class="tk" text-anchor="end" textLength="13.71" lengthAdjust="spacingAndGlyphs">400</text>
<line x1="391.90" y1="781.05" x2="396.40" y2="781.05" stroke="#5e5e5e" stroke-width="1.4"/>
<text x="390.00" y="785.95" class="tk" text-anchor="end" textLength="13.71" lengthAdjust="spacingAndGlyphs">500</text>
<line x1="391.90" y1="754.06" x2="396.40" y2="754.06" stroke="#5e5e5e" stroke-width="1.4"/>
<text x="390.00" y="758.96" class="tk" text-anchor="end" textLength="13.71" lengthAdjust="spacingAndGlyphs">600</text>
<line x1="391.90" y1="727.07" x2="396.40" y2="727.07" stroke="#5e5e5e" stroke-width="1.4"/>
<text x="390.00" y="731.97" class="tk" text-anchor="end" textLength="13.71" lengthAdjust="spacingAndGlyphs">700</text>
<line x1="391.90" y1="700.08" x2="396.40" y2="700.08" stroke="#5e5e5e" stroke-width="1.4"/>
<text x="390.00" y="704.98" class="tk" text-anchor="end" textLength="13.71" lengthAdjust="spacingAndGlyphs">800</text>
<line x1="391.90" y1="673.09" x2="396.40" y2="673.09" stroke="#5e5e5e" stroke-width="1.4"/>
<text x="390.00" y="677.99" class="tk" text-anchor="end" textLength="13.71" lengthAdjust="spacingAndGlyphs">900</text>
<line x1="444.50" y1="747.04" x2="444.50" y2="787.26" stroke="#404040" stroke-width="1.3"/>
<line x1="444.50" y1="856.35" x2="444.50" y2="878.75" stroke="#404040" stroke-width="1.3"/>
<line x1="439.50" y1="878.75" x2="449.50" y2="878.75" stroke="#404040" stroke-width="1.3"/>
<rect x="432.30" y="787.26" width="24.40" height="69.09" fill="#656565" stroke="#3a3a3a" stroke-width="1.35"/>
<line x1="432.30" y1="808.04" x2="456.70" y2="808.04" stroke="#1e1e1e" stroke-width="1.7"/>
<line x1="492.60" y1="828.55" x2="492.60" y2="839.89" stroke="#404040" stroke-width="1.3"/>
<line x1="487.60" y1="828.55" x2="497.60" y2="828.55" stroke="#404040" stroke-width="1.3"/>
<line x1="492.60" y1="871.20" x2="492.60" y2="878.75" stroke="#404040" stroke-width="1.3"/>
<line x1="487.60" y1="878.75" x2="497.60" y2="878.75" stroke="#404040" stroke-width="1.3"/>
<rect x="480.40" y="839.89" width="24.40" height="31.31" fill="#656565" stroke="#3a3a3a" stroke-width="1.35"/>
<line x1="480.40" y1="856.35" x2="504.80" y2="856.35" stroke="#1e1e1e" stroke-width="1.7"/>
<rect x="528.20" y="879.29" width="24.40" height="9.72" fill="#8a8a8a" stroke="#3a3a3a" stroke-width="1.35"/>
<line x1="528.20" y1="889.01" x2="552.60" y2="889.01" stroke="#1e1e1e" stroke-width="1.7"/>
<line x1="535.40" y1="879.29" x2="545.40" y2="879.29" stroke="#3a3a3a" stroke-width="1.6"/>
<line x1="535.40" y1="889.01" x2="545.40" y2="889.01" stroke="#3a3a3a" stroke-width="1.6"/>
<line x1="588.50" y1="802.24" x2="588.50" y2="821.94" stroke="#404040" stroke-width="1.3"/>
<line x1="583.50" y1="802.24" x2="593.50" y2="802.24" stroke="#404040" stroke-width="1.3"/>
<line x1="588.50" y1="886.31" x2="588.50" y2="896.30" stroke="#404040" stroke-width="1.3"/>
<line x1="583.50" y1="896.30" x2="593.50" y2="896.30" stroke="#404040" stroke-width="1.3"/>
<rect x="576.30" y="821.94" width="24.40" height="64.37" fill="#8a8a8a" stroke="#3a3a3a" stroke-width="1.35"/>
<line x1="576.30" y1="862.29" x2="600.70" y2="862.29" stroke="#1e1e1e" stroke-width="1.7"/>
<text x="446.30" y="732.80" class="lt" text-anchor="middle">A</text>
<text x="493.00" y="815.20" class="lt" text-anchor="middle">B</text>
<text x="541.90" y="864.00" class="lt" text-anchor="middle">B</text>
<text x="589.20" y="785.80" class="lt" text-anchor="middle">B</text>
<text x="415.80" y="668.00" class="pn" text-anchor="start">6</text>
<text x="412.95" y="928.10" class="sp" text-anchor="start" textLength="47.65" lengthAdjust="spacingAndGlyphs">M. furnieri</text>
<text x="457.45" y="948.50" class="sp" text-anchor="start" textLength="61.2" lengthAdjust="spacingAndGlyphs">C. guatucupa</text>
<text x="521.65" y="928.10" class="sp" text-anchor="start" textLength="48.55" lengthAdjust="spacingAndGlyphs">U. canosai</text>
<text x="561.45" y="948.30" class="sp" text-anchor="start" textLength="58.9" lengthAdjust="spacingAndGlyphs">M. atricauda</text>
<text x="0" y="0" class="yl" text-anchor="middle" transform="translate(364.60,783.00) rotate(-90)" textLength="78.6" lengthAdjust="spacingAndGlyphs" xml:space="preserve">Call duration (s)</text>
</svg>
</body></html>
